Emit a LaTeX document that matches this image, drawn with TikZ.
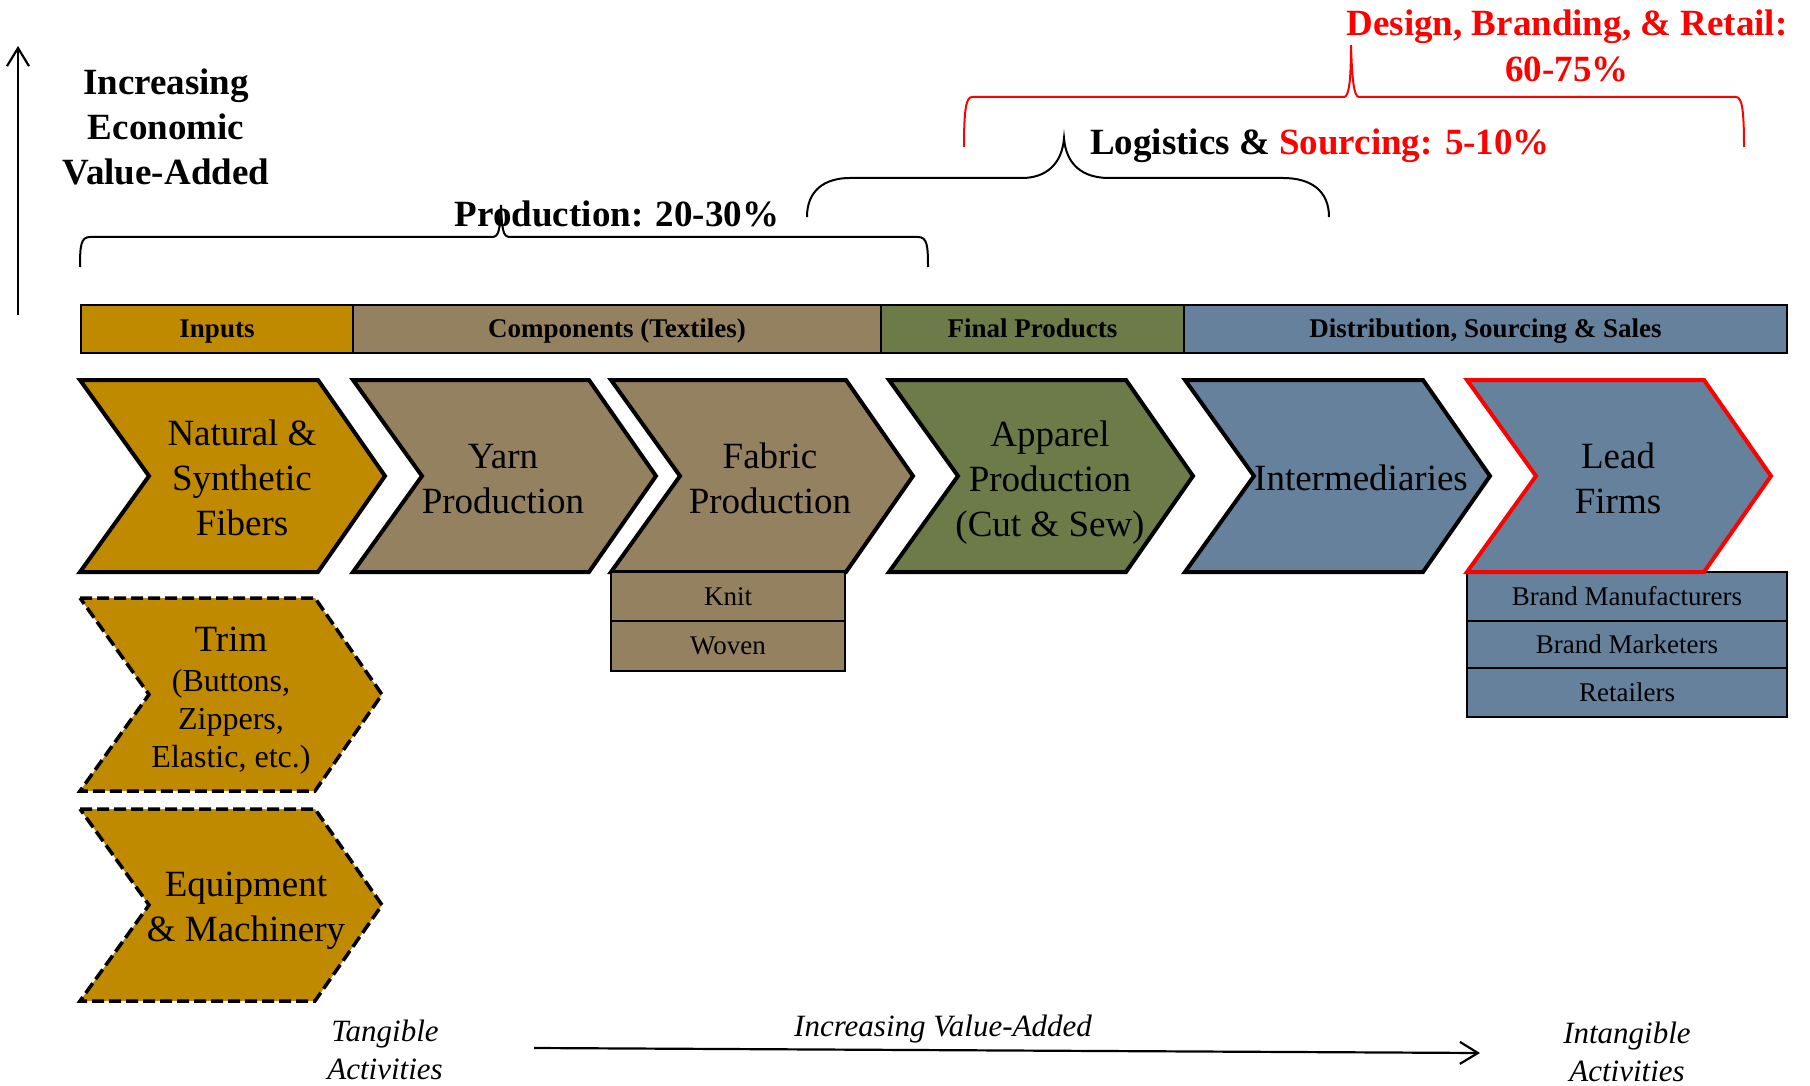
\documentclass[tikz,border=0pt]{standalone}
\usepackage{fontspec}
\setmainfont{Liberation Serif}
\usetikzlibrary{arrows.meta}
\definecolor{cgold}{RGB}{192,138,0}
\definecolor{ckhaki}{RGB}{148,129,96}
\definecolor{cgreen}{RGB}{108,123,72}
\definecolor{cblue}{RGB}{102,129,156}
\newcommand\chevron[5]{% style, left, top, bottom, body width
  \path[#1] (#2,#3) -- ++(#5,0) -- ++(67,{(#4-#3)/2}) -- ++(-67,{(#4-#3)/2})
    -- ++(-#5,0) -- ++(69,{-(#4-#3)/2}) -- cycle;}
\begin{document}
\begin{tikzpicture}[x=1pt,y=-1pt,
  chev/.style={draw=black, line width=4pt, line join=miter},
  dchev/.style={draw=black, line width=3.5pt, dash pattern=on 12pt off 5pt, line join=miter},
  big/.style={font=\fontsize{37}{45}\selectfont, align=center, inner sep=0pt},
  hdr/.style={draw=black, line width=2.5pt, inner sep=0pt, minimum height=48pt,
    text height=17pt, text depth=0pt,
    font=\bfseries\fontsize{27}{31}\selectfont},
  sub/.style={draw=black, line width=2.5pt, inner sep=0pt, text height=17pt, text depth=0pt,
    font=\fontsize{27}{31}\selectfont},
  ttl/.style={font=\bfseries\fontsize{37}{45}\selectfont, align=center, inner sep=0pt},
  itl/.style={font=\itshape\fontsize{31}{38}\selectfont, align=center, inner sep=0pt},
  brace/.style={line width=2pt},
  arr/.style={line width=2.2pt, -{Straight Barb[length=18pt,width=22pt,line width=2.2pt]}}]
\useasboundingbox (0,0) rectangle (1810,1086);

% vertical axis
\coordinate (vA) at (18,315);
\coordinate (vB) at (18,46);
\draw[arr] (vA) -- (vB);
\node[ttl] (ieva) at (166,127) {Increasing\\Economic\\Value-Added};

% header bar
\node[hdr, fill=cgold, minimum width=272pt] (hin) at (217,329) {Inputs};
\node[hdr, fill=ckhaki, minimum width=528pt] (hcomp) at (617,329) {Components (Textiles)};
\node[hdr, fill=cgreen, minimum width=303pt] (hfin) at (1032.5,329) {Final Products};
\node[hdr, fill=cblue, minimum width=603pt] (hdist) at (1485.5,329) {Distribution, Sourcing \& Sales};

% row of chevrons
\chevron{chev, fill=cgold}{80}{380}{572}{238}
\node[big] (fib) at (242,478) {Natural \&\\Synthetic\\Fibers};
\chevron{chev, fill=ckhaki}{353}{380}{572}{236}
\node[big] (yarn) at (503,479) {Yarn\\Production};
\chevron{chev, fill=ckhaki}{611}{380}{572}{235}
\node[big] (fab) at (770,478) {Fabric\\Production};
\chevron{chev, fill=cgreen}{889}{380}{572}{237}
\node[big] (app) at (1050,483) {Apparel\\Production\\(Cut \& Sew)};
\chevron{chev, fill=cblue}{1185}{380}{572}{238}
\node[big] (inter) at (1361,478) {Intermediaries};

% lead firm sub boxes
\node[sub, fill=cblue, minimum width=320pt, minimum height=49pt] (bm) at (1627,596.5) {Brand Manufacturers};
\node[sub, fill=cblue, minimum width=320pt, minimum height=47pt] (bmk) at (1627,644.5) {Brand Marketers};
\node[sub, fill=cblue, minimum width=320pt, minimum height=49pt] (ret) at (1627,692.5) {Retailers};
\chevron{chev, draw=red, fill=cblue}{1467}{380}{572}{237}
\node[big] (lead) at (1618,478) {Lead\\Firms};

% fabric sub boxes
\node[sub, fill=ckhaki, minimum width=234pt, minimum height=49pt] (knit) at (728,596.5) {Knit};
\node[sub, fill=ckhaki, minimum width=234pt, minimum height=50pt] (wov) at (728,646) {Woven};

% dashed input chevrons
\chevron{dchev, fill=cgold}{80}{598}{791}{235}
\node[big, font=\fontsize{32}{38}\selectfont] (trim) at (231,701)
  {{\fontsize{37}{45}\selectfont Trim}\\[2pt](Buttons,\\Zippers,\\Elastic, etc.)};
\chevron{dchev, fill=cgold}{80}{809}{1001}{235}
\node[big] (equip) at (246,911) {Equipment\\\& Machinery};

% production brace
\draw[brace] (80,267) .. controls (80,245) and (81,237) .. (90,237) -- (492,237)
  .. controls (499,237) and (500,230) .. (501,205)
  .. controls (502,230) and (503,237) .. (510,237) -- (918,237)
  .. controls (927,237) and (928,245) .. (928,267);
\node[ttl, anchor=base] (prod) at (617,226) {Production: 20-30\%};

% logistics brace
\draw[brace] (807,217) .. controls (807,190) and (825,178) .. (850,178) -- (1022,178)
  .. controls (1045,178) and (1062,165) .. (1064,138)
  .. controls (1066,165) and (1083,178) .. (1109,178) -- (1283,178)
  .. controls (1310,178) and (1329,190) .. (1329,217);
\node[ttl, anchor=base] (logi) at (1320,155) {Logistics \& \textcolor{red}{Sourcing: 5-10\%}};

% design brace
\draw[brace, red] (964,147) .. controls (964,110) and (966,97) .. (972,97) -- (1344,97)
  .. controls (1349,97) and (1351,80) .. (1351,45)
  .. controls (1352,80) and (1354,97) .. (1359,97) -- (1736,97)
  .. controls (1742,97) and (1744,110) .. (1744,147);
\node[ttl, text=red, font=\bfseries\fontsize{37}{46}\selectfont] (design) at (1567,46) {Design, Branding, \& Retail:\\60-75\%};

% bottom axis
\coordinate (hA) at (534,1048);
\coordinate (hB) at (1480,1053);
\draw[arr] (hA) -- (hB);
\node[itl, anchor=base] (iva) at (943,1036) {Increasing Value-Added};
\node[itl] (tang) at (385,1050) {Tangible\\Activities};
\node[itl] (intang) at (1627,1052) {Intangible\\Activities};
\end{tikzpicture}
\end{document}
